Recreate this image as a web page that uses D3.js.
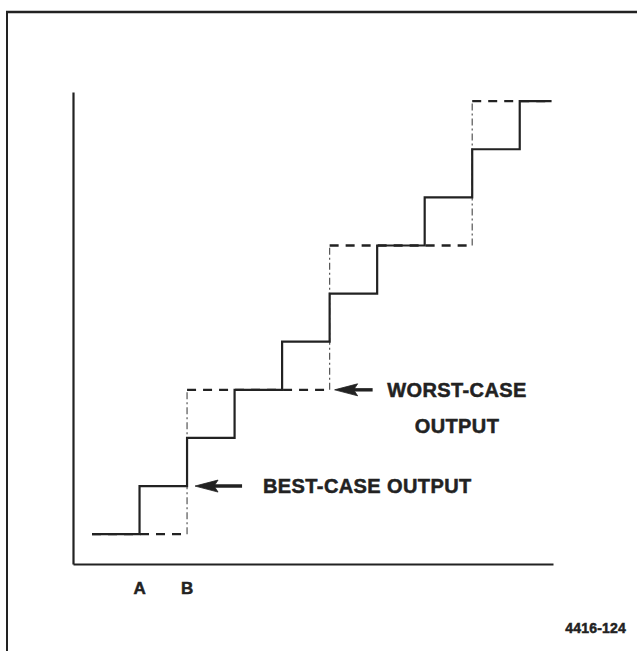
<!DOCTYPE html>
<html>
<head>
<meta charset="utf-8">
<script src="https://cdn.jsdelivr.net/npm/d3@7"></script>
<style>
  html, body { margin: 0; padding: 0; background: #fff; }
  svg { display: block; }
  text { font-family: "Liberation Sans", Arial, Helvetica, sans-serif; font-weight: bold; fill: #222; stroke: #222; stroke-width: 0.5; }
</style>
</head>
<body>
<svg id="chart" width="637" height="651"></svg>
<script>
// Sample times (in code periods) and output levels for the two staircases
const bestTimes   = [0, 1, 2, 3, 4, 5, 6, 7, 8, 9, 9.67];
const bestLevels  = [0, 1, 2, 3, 4, 5, 6, 7, 8, 9, 9];
const worstTimes  = [0, 2, 5, 8, 9.67];
const worstLevels = [0, 3, 6, 9, 9];

// Time markers on the horizontal axis
const markerLabels = ["A", "B"];
const markerTimes  = [1, 2];

const figureId = "4416-124";

const svg = d3.select("#chart");
const ink = "#222";

// Scales
const x = d3.scaleLinear().domain([-0.4, 9.7]).range([73, 553]);
const y = d3.scaleLinear().domain([-0.62, 9.19]).range([564, 92]);

// Page frame (top and left rules)
svg.append("line").attr("x1", 6).attr("x2", 637).attr("y1", 12).attr("y2", 12)
  .attr("stroke", ink).attr("stroke-width", 2.5);
svg.append("line").attr("x1", 7).attr("x2", 7).attr("y1", 11).attr("y2", 651)
  .attr("stroke", ink).attr("stroke-width", 2);

// Axes drawn with no ticks
const xAxis = d3.axisBottom(x).tickValues([]).tickSizeOuter(0);
const yAxis = d3.axisLeft(y).tickValues([]).tickSizeOuter(0);
svg.append("g").attr("transform", `translate(0,${y(-0.62)})`).call(xAxis)
  .select(".domain").attr("stroke", ink).attr("stroke-width", 2.2);
svg.append("g").attr("transform", `translate(${x(-0.4)},0)`).call(yAxis)
  .select(".domain").attr("stroke", ink).attr("stroke-width", 2.2);

// Worst-case output: dashed staircase, split into risers and treads
const worst = worstTimes.map((t, i) => ({ t, v: worstLevels[i] }));
const treads = [], risers = [];
worst.forEach((d, i) => {
  if (i < worst.length - 1) {
    treads.push([d, { t: worst[i + 1].t, v: d.v }]);
    if (worst[i + 1].v !== d.v) risers.push([{ t: worst[i + 1].t, v: d.v }, worst[i + 1]]);
  }
});
const seg = d3.line().x(d => x(d.t)).y(d => y(d.v));
svg.append("g").selectAll("path").data(treads).join("path")
  .attr("d", seg).attr("fill", "none").attr("stroke", ink)
  .attr("stroke-width", 2.4).attr("stroke-dasharray", "9,7");
svg.append("g").selectAll("path").data(risers).join("path")
  .attr("d", seg).attr("fill", "none").attr("stroke", "#555")
  .attr("stroke-width", 1.2).attr("stroke-dasharray", "7,3,2,3");

// Best-case output: solid staircase
const best = bestTimes.map((t, i) => ({ t, v: bestLevels[i] }));
svg.append("path").datum(best)
  .attr("d", d3.line().x(d => x(d.t)).y(d => y(d.v)).curve(d3.curveStepAfter))
  .attr("fill", "none").attr("stroke", ink).attr("stroke-width", 2.2);

// Leader arrows pointing at each staircase
function arrow(tipX, tipY, len) {
  const g = svg.append("g");
  g.append("line").attr("x1", tipX + 14).attr("x2", tipX + len)
    .attr("y1", tipY).attr("y2", tipY).attr("stroke", ink).attr("stroke-width", 3.4);
  g.append("path")
    .attr("d", `M${tipX},${tipY} L${tipX + 23},${tipY - 6} L${tipX + 19},${tipY} L${tipX + 23},${tipY + 6} Z`)
    .attr("fill", ink).attr("stroke", ink).attr("stroke-width", 0.8).attr("stroke-linejoin", "round");
}
arrow(x(2) + 8, y(1), 47);
arrow(x(5) + 5, y(3), 38);

// Annotation text
svg.append("text").attr("x", 263).attr("y", 493)
  .attr("font-size", 20).attr("letter-spacing", 0.4).text("BEST-CASE OUTPUT");
const wc = svg.append("text").attr("text-anchor", "middle")
  .attr("font-size", 20).attr("letter-spacing", 0.4);
wc.append("tspan").attr("x", 457).attr("y", 397).text("WORST-CASE");
wc.append("tspan").attr("x", 457).attr("y", 433).text("OUTPUT");

// Time marker labels under the axis
svg.append("g").selectAll("text").data(markerLabels).join("text")
  .attr("x", (d, i) => x(markerTimes[i])).attr("y", 594)
  .attr("text-anchor", "middle").attr("font-size", 17).text(d => d);

// Figure number
svg.append("text").attr("x", 626).attr("y", 633).attr("text-anchor", "end")
  .attr("font-size", 14).attr("letter-spacing", 0.2).text(figureId);
</script>
</body>
</html>
